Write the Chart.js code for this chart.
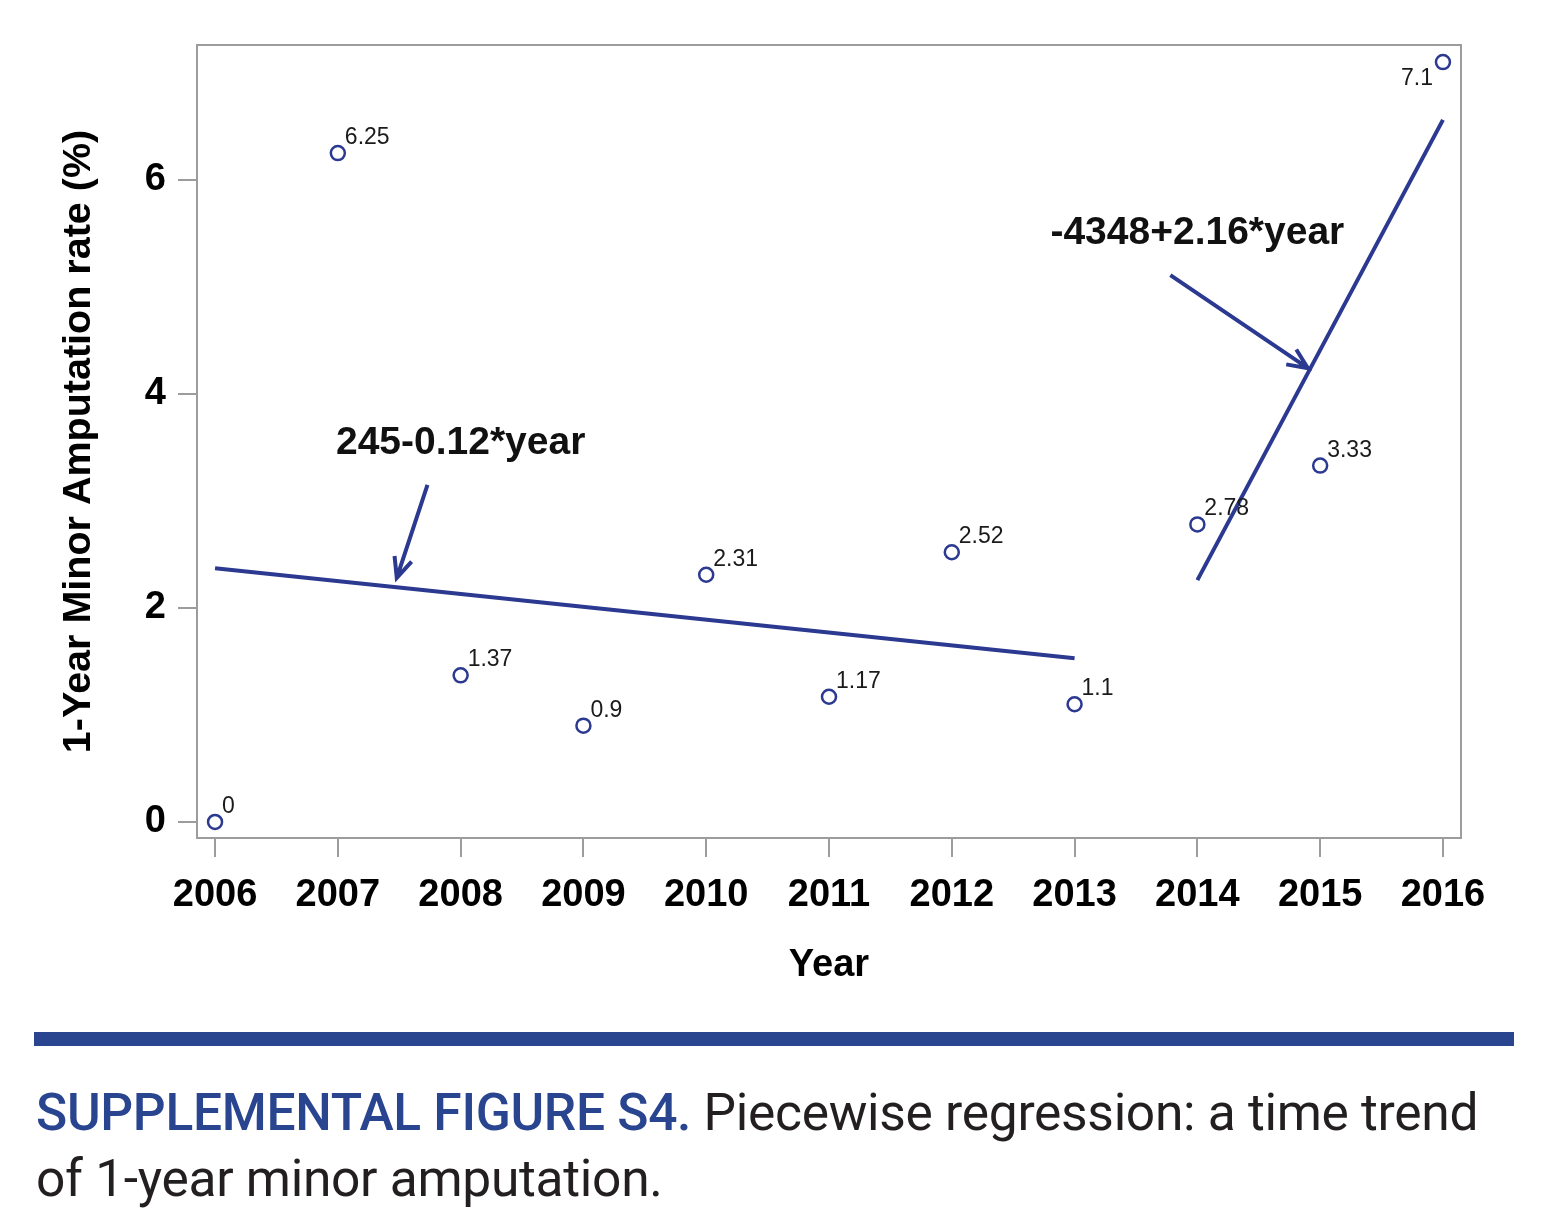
<!DOCTYPE html>
<html>
<head>
<meta charset="utf-8">
<script src="https://cdn.jsdelivr.net/npm/chart.js@4"></script>
<style>
  body { margin: 0; background: #fff; width: 1548px; height: 1232px; position: relative; overflow: hidden; }
  #chart-wrap { position: absolute; left: 0; top: 0; width: 1548px; height: 1010px; }
  #bar { position: absolute; left: 34px; top: 1032px; width: 1480px; height: 14px; background: #2a4590; }
  #caption { position: absolute; left: 36px; top: 1080px; width: 1510px; font-family: Roboto, sans-serif; font-size: 51.5px; line-height: 66px; color: #231f20; letter-spacing: -0.3px; white-space: nowrap; }
  #caption b { color: #2a4590; font-weight: 500; }
</style>
</head>
<body>
<div id="chart-wrap"><canvas id="myChart"></canvas></div>
<div id="bar"></div>
<div id="caption"><b>SUPPLEMENTAL FIGURE S4.</b> Piecewise regression: a time trend<br>of 1-year minor amputation.</div>
<script>
// data
const years = [2006, 2007, 2008, 2009, 2010, 2011, 2012, 2013, 2014, 2015, 2016];
const rates = [0, 6.25, 1.37, 0.9, 2.31, 1.17, 2.52, 1.1, 2.78, 3.33, 7.1];
const xTicks = [2006, 2007, 2008, 2009, 2010, 2011, 2012, 2013, 2014, 2015, 2016];
const yTicks = [0, 2, 4, 6];

// fitted segments (endpoints as drawn)
const fitLeftYears = [2006, 2013];
const fitLeftValues = [2.37, 1.53];
const fitRightYears = [2014, 2016];
const fitRightValues = [2.26, 6.56];

// equation labels and their arrows, in data units
const eqLabels = ['245-0.12*year', '-4348+2.16*year'];
const eqLabelAt = [[2008.0, 3.54], [2014.0, 5.5]];
const arrowFrom = [[2007.73, 3.15], [2013.78, 5.11]];
const arrowTo = [[2007.48, 2.28], [2014.9, 4.24]];

const BLUE = '#2b3990';
const GRAY = '#9c9c9c';
const FONT = '"Liberation Sans", Arial, sans-serif';

// frame round the plot area
const frame = {
  id: 'frame',
  afterDraw(chart) {
    const { ctx, chartArea: a } = chart;
    ctx.save();
    ctx.strokeStyle = GRAY;
    ctx.lineWidth = 2;
    ctx.strokeRect(a.left, a.top, a.right - a.left, a.bottom - a.top);
    ctx.restore();
  }
};

// value labels next to each point
const pointLabels = {
  id: 'pointLabels',
  afterDatasetsDraw(chart) {
    const { ctx, chartArea } = chart;
    const meta = chart.getDatasetMeta(0);
    ctx.save();
    ctx.font = '23px ' + FONT;
    ctx.fillStyle = '#1a1a1a';
    meta.data.forEach((pt, i) => {
      const txt = String(rates[i]);
      const w = ctx.measureText(txt).width;
      if (pt.x + 8 + w > chartArea.right) {
        ctx.textAlign = 'right';
        ctx.textBaseline = 'top';
        ctx.fillText(txt, pt.x - 10, pt.y + 5);
      } else {
        ctx.textAlign = 'left';
        ctx.textBaseline = 'alphabetic';
        ctx.fillText(txt, pt.x + 7, pt.y - 9);
      }
    });
    ctx.restore();
  }
};

function drawArrow(ctx, x1, y1, x2, y2) {
  const ang = Math.atan2(y2 - y1, x2 - x1);
  const len = 22, spread = 0.42;
  ctx.beginPath();
  ctx.moveTo(x1, y1);
  ctx.lineTo(x2, y2);
  ctx.moveTo(x2 - len * Math.cos(ang - spread), y2 - len * Math.sin(ang - spread));
  ctx.lineTo(x2, y2);
  ctx.lineTo(x2 - len * Math.cos(ang + spread), y2 - len * Math.sin(ang + spread));
  ctx.stroke();
}

// equations with arrows
const equations = {
  id: 'equations',
  afterDatasetsDraw(chart) {
    const { ctx, scales: { x, y } } = chart;
    ctx.save();
    ctx.strokeStyle = BLUE;
    ctx.lineWidth = 4;
    ctx.lineCap = 'butt';
    ctx.lineJoin = 'miter';
    arrowFrom.forEach((f, i) => {
      drawArrow(ctx, x.getPixelForValue(f[0]), y.getPixelForValue(f[1]),
        x.getPixelForValue(arrowTo[i][0]), y.getPixelForValue(arrowTo[i][1]));
    });
    ctx.font = 'bold 39px ' + FONT;
    ctx.fillStyle = '#111';
    ctx.textAlign = 'center';
    ctx.textBaseline = 'middle';
    eqLabels.forEach((t, i) => {
      ctx.fillText(t, x.getPixelForValue(eqLabelAt[i][0]), y.getPixelForValue(eqLabelAt[i][1]));
    });
    ctx.restore();
  }
};

const ctx = document.getElementById('myChart').getContext('2d');

new Chart(ctx, {
  type: 'scatter',
  data: {
    datasets: [
      {
        label: 'Rate',
        data: years.map((yr, i) => ({ x: yr, y: rates[i] })),
        showLine: false,
        pointStyle: 'circle',
        pointRadius: 7,
        pointBorderWidth: 2.5,
        pointBorderColor: BLUE,
        pointBackgroundColor: 'rgba(255,255,255,0)'
      },
      {
        label: 'Fit 2006-2013',
        data: fitLeftYears.map((yr, i) => ({ x: yr, y: fitLeftValues[i] })),
        showLine: true,
        borderColor: BLUE,
        borderWidth: 4,
        pointRadius: 0
      },
      {
        label: 'Fit 2014-2016',
        data: fitRightYears.map((yr, i) => ({ x: yr, y: fitRightValues[i] })),
        showLine: true,
        borderColor: BLUE,
        borderWidth: 4,
        pointRadius: 0
      }
    ]
  },
  options: {
    responsive: true,
    maintainAspectRatio: false,
    animation: false,
    layout: { padding: { top: 45, right: 87, left: 0, bottom: 0 } },
    plugins: {
      legend: { display: false },
      tooltip: { enabled: false }
    },
    scales: {
      x: {
        type: 'linear',
        min: 2005.853,
        max: 2016.147,
        afterBuildTicks: scale => { scale.ticks = xTicks.map(v => ({ value: v })); },
        afterFit: scale => { scale.height = 172; },
        grid: { drawOnChartArea: false, drawTicks: true, tickLength: 19, color: GRAY, lineWidth: 2 },
        border: { color: GRAY, width: 2 },
        ticks: {
          padding: 16,
          color: '#000',
          font: { family: FONT, size: 38, weight: 'bold' },
          callback: v => String(v),
          maxRotation: 0,
          autoSkip: false
        },
        title: {
          display: true,
          text: 'Year',
          color: '#000',
          font: { family: FONT, size: 38, weight: 'bold' },
          padding: { top: 0, bottom: 22 }
        }
      },
      y: {
        min: -0.15,
        max: 7.26,
        afterBuildTicks: scale => { scale.ticks = yTicks.map(v => ({ value: v })); },
        afterFit: scale => { scale.width = 197; },
        grid: { drawOnChartArea: false, drawTicks: true, tickLength: 19, color: GRAY, lineWidth: 2 },
        border: { color: GRAY, width: 2 },
        ticks: {
          padding: 12,
          color: '#000',
          font: { family: FONT, size: 38, weight: 'bold' }
        },
        title: {
          display: true,
          text: '1-Year Minor Amputation rate (%)',
          color: '#000',
          font: { family: FONT, size: 39.5, weight: 'bold' },
          padding: { top: 55, bottom: 0 }
        }
      }
    }
  },
  plugins: [frame, pointLabels, equations]
});
</script>
</body>
</html>
